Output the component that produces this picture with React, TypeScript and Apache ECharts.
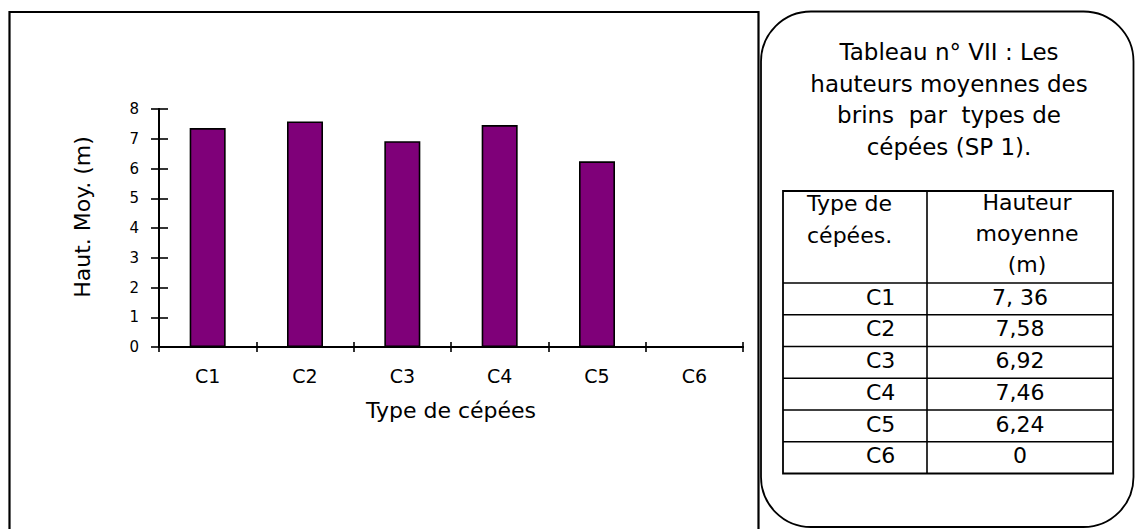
import React, { useEffect, useRef } from "react";
import * as echarts from "echarts";

// Types de cépées and their mean stem heights (m), as printed in the table
const categories = ["C1", "C2", "C3", "C4", "C5", "C6"];
const heightLabels = ["7, 36", "7,58", "6,92", "7,46", "6,24", "0"];
const heights = heightLabels.map((s) => parseFloat(s.replace(/\s/g, "").replace(",", ".")));

const yTicks = { min: 0, max: 8, interval: 1 };

const titleLines = ["Tableau n° VII : Les", "hauteurs moyennes des", "brins  par  types de", "cépées (SP 1)."];
const headerLeft = ["Type de", "cépées."];
const headerRight = ["Hauteur", "moyenne", "(m)"];

const FONT = "DejaVu Sans";

export default function App() {
  const ref = useRef<HTMLDivElement>(null);

  useEffect(() => {
    if (!ref.current) return;
    const chart = echarts.init(ref.current, undefined, { renderer: "svg" });

    // table geometry
    const tLeft = 783;
    const tRight = 1113;
    const tTop = 191;
    const tDiv = 927;
    const headBottom = 283;
    const rowH = 31.75;
    const tBottom = headBottom + rowH * categories.length;

    const lineStyle = { stroke: "#000", lineWidth: 1.6 };
    const graphics: any[] = [];

    // outer frame around the chart
    graphics.push({
      type: "rect",
      shape: { x: 9.5, y: 12, width: 749, height: 560 },
      style: { fill: "none", stroke: "#000", lineWidth: 2.2 },
      silent: true,
    });
    // rounded box holding the table
    graphics.push({
      type: "rect",
      shape: { x: 761, y: 11.5, width: 372.5, height: 515.5, r: 50 },
      style: { fill: "none", stroke: "#000", lineWidth: 1.8 },
      silent: true,
    });
    // title
    graphics.push({
      type: "text",
      x: 949,
      y: 36,
      style: {
        text: titleLines.join("\n"),
        font: `23px "${FONT}"`,
        fill: "#000",
        align: "center",
        verticalAlign: "top",
        lineHeight: 31.7,
      },
      silent: true,
    });
    // table frame
    graphics.push({
      type: "rect",
      shape: { x: tLeft, y: tTop, width: tRight - tLeft, height: tBottom - tTop },
      style: { fill: "none", stroke: "#000", lineWidth: 1.8 },
      silent: true,
    });
    graphics.push({
      type: "line",
      shape: { x1: tDiv, y1: tTop, x2: tDiv, y2: tBottom },
      style: lineStyle,
      silent: true,
    });
    for (let i = 0; i < categories.length; i++) {
      const y = headBottom + rowH * i;
      graphics.push({
        type: "line",
        shape: { x1: tLeft, y1: y, x2: tRight, y2: y },
        style: lineStyle,
        silent: true,
      });
      graphics.push({
        type: "text",
        x: 866,
        y: y + 14,
        style: { text: categories[i], font: `22px "${FONT}"`, fill: "#000", align: "left", verticalAlign: "middle" },
        silent: true,
      });
      graphics.push({
        type: "text",
        x: 1020,
        y: y + 14,
        style: { text: heightLabels[i], font: `22px "${FONT}"`, fill: "#000", align: "center", verticalAlign: "middle" },
        silent: true,
      });
    }
    // table header
    graphics.push({
      type: "text",
      x: 807,
      y: 187,
      style: {
        text: headerLeft.join("\n"),
        font: `22px "${FONT}"`,
        fill: "#000",
        align: "left",
        verticalAlign: "top",
        lineHeight: 32,
      },
      silent: true,
    });
    graphics.push({
      type: "text",
      x: 1027,
      y: 187,
      style: {
        text: headerRight.join("\n"),
        font: `22px "${FONT}"`,
        fill: "#000",
        align: "center",
        verticalAlign: "top",
        lineHeight: 31,
      },
      silent: true,
    });

    const axisLine = { show: true, lineStyle: { color: "#000", width: 2 } };

    chart.setOption({
      animation: false,
      backgroundColor: "#fff",
      grid: { left: 159, right: 393, top: 109, bottom: 182, containLabel: false },
      xAxis: [
        {
          type: "category",
          position: "bottom",
          data: categories,
          boundaryGap: true,
          axisLine,
          axisTick: { show: true, length: 5, lineStyle: { color: "#000", width: 1.6 } },
          axisLabel: { color: "#000", fontFamily: FONT, fontSize: 19, margin: 19 },
          name: "Type de cépées",
          nameLocation: "middle",
          nameGap: 52,
          nameTextStyle: { color: "#000", fontFamily: FONT, fontSize: 22 },
          splitLine: { show: false },
        },
        {
          type: "category",
          position: "bottom",
          data: categories,
          boundaryGap: true,
          axisLine,
          axisTick: { show: true, inside: true, length: 5, lineStyle: { color: "#000", width: 1.6 } },
          axisLabel: { show: false },
          splitLine: { show: false },
        },
      ],
      yAxis: [
        {
          type: "value",
          position: "left",
          ...yTicks,
          axisLine,
          axisTick: { show: true, length: 8, lineStyle: { color: "#000", width: 1.6 } },
          axisLabel: { color: "#000", fontFamily: FONT, fontSize: 15, margin: 20 },
          splitLine: { show: false },
          name: "Haut. Moy. (m)",
          nameLocation: "middle",
          nameRotate: 90,
          nameGap: 66,
          nameTextStyle: { color: "#000", fontFamily: FONT, fontSize: 22, padding: [0, 0, 0, 22] },
        },
        {
          type: "value",
          position: "left",
          ...yTicks,
          axisLine,
          axisTick: { show: true, inside: true, length: 9, lineStyle: { color: "#000", width: 1.6 } },
          axisLabel: { show: false },
          splitLine: { show: false },
        },
      ],
      series: [
        {
          type: "bar",
          xAxisIndex: 0,
          yAxisIndex: 0,
          data: heights,
          barWidth: 36,
          itemStyle: { color: "#7f0079", borderColor: "#000", borderWidth: 1.6 },
        },
      ],
      graphic: graphics,
    });

    return () => chart.dispose();
  }, []);

  return (
    <div
      ref={ref}
      style={{ position: "fixed", left: 0, top: 0, width: 1136, height: 529, background: "#fff" }}
    />
  );
}
